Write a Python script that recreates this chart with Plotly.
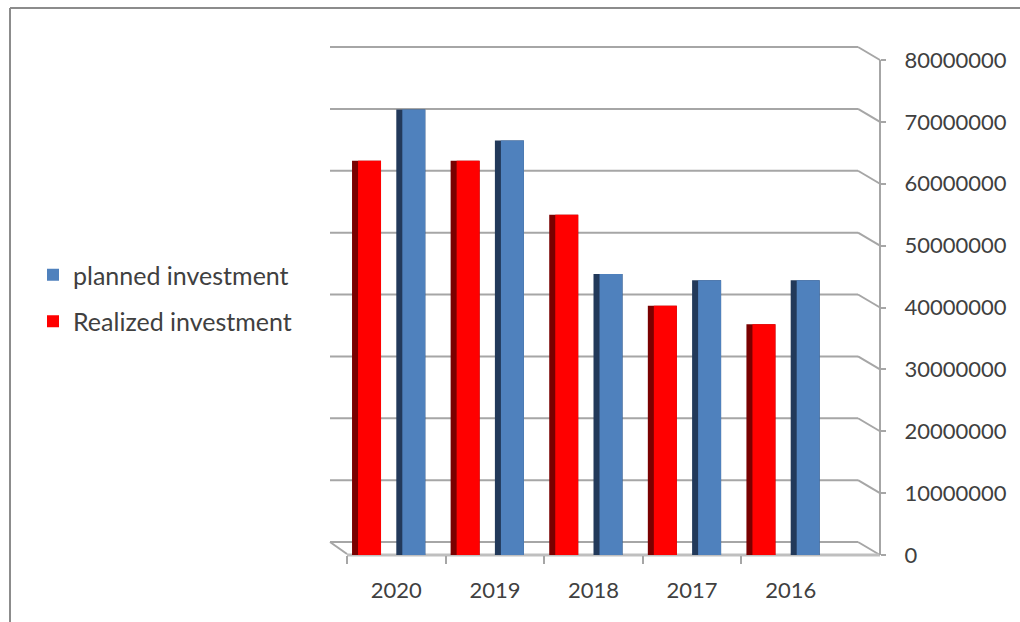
import plotly.graph_objects as go

# ---------------- data ----------------
years = ["2020", "2019", "2018", "2017", "2016"]
planned = [72000000, 67000000, 45400000, 44400000, 44400000]
realized = [63700000, 63700000, 55000000, 40300000, 37300000]
y_ticks = [0, 10000000, 20000000, 30000000, 40000000, 50000000, 60000000, 70000000, 80000000]
y_max = 80000000

# ---------------- geometry (pixels) ----------------
W, H = 1020, 622
def px(x): return x / W
def py(y): return 1 - y / H

FRONT_Y0, FRONT_YTOP = 555, 60     # front (labelled) axis
BACK_Y0, BACK_YTOP = 542, 47       # back wall
BACK_X0, BACK_X1 = 330, 858
AXIS_X = 880
CAT_X0, CAT_X1 = 347, 840
FLOOR_Y = 555

GRID = "#A6A6A6"
TXT = "#404040"
FONT = "Lato, Open Sans, sans-serif"

fig = go.Figure()

# bars: dark side first, then front face
def add_bar(vals, name, face, side, off, showlegend):
    fig.add_trace(go.Bar(x=years, y=vals, name=name, marker=dict(color=side, line=dict(width=0)),
                         offset=off, width=0.294, showlegend=False, hoverinfo="skip",
                         legendgroup=name))
    fig.add_trace(go.Bar(x=years, y=vals, name=name, marker=dict(color=face, line=dict(width=0)),
                         offset=off + 0.061, width=0.233, showlegend=showlegend, hoverinfo="skip",
                         legendgroup=name))

add_bar(planned, "planned investment", "#4F81BD", "#22395A", 0.0, True)
add_bar(realized, "Realized investment", "#FF0000", "#7A0000", -0.449, True)

shapes = []
def line(x0, y0, x1, y1, color=GRID, width=2):
    shapes.append(dict(type="line", xref="paper", yref="paper",
                       x0=px(x0), y0=py(y0), x1=px(x1), y1=py(y1),
                       line=dict(color=color, width=width), layer="below"))

# back-wall gridlines and right-side connectors to the front axis
for v in y_ticks:
    yb = BACK_Y0 + (BACK_YTOP - BACK_Y0) * v / y_max
    yf = FRONT_Y0 + (FRONT_YTOP - FRONT_Y0) * v / y_max
    line(BACK_X0, yb, BACK_X1, yb)
    line(BACK_X1, yb, AXIS_X, yf)

# floor
line(BACK_X0, BACK_Y0, CAT_X0, FLOOR_Y - 1)
line(CAT_X0, FLOOR_Y, AXIS_X, FLOOR_Y, color="#BFBFBF", width=3)

# outer border (top and left)
shapes.append(dict(type="line", xref="paper", yref="paper", x0=px(10), y0=py(8), x1=1, y1=py(8),
                   line=dict(color="#8C8C8C", width=2)))
shapes.append(dict(type="line", xref="paper", yref="paper", x0=px(10), y0=py(8), x1=px(10), y1=0,
                   line=dict(color="#8C8C8C", width=2)))

fig.update_layout(
    width=W, height=H,
    margin=dict(l=0, r=0, t=0, b=0, pad=0, autoexpand=False),
    paper_bgcolor="white", plot_bgcolor="rgba(0,0,0,0)",
    barmode="overlay",
    font=dict(family=FONT, color=TXT, size=22),
    shapes=shapes,
    showlegend=True,
    legend=dict(x=px(33), y=py(252), xanchor="left", yanchor="top",
                font=dict(size=25, color=TXT, family=FONT),
                tracegroupgap=11, bgcolor="rgba(0,0,0,0)"),
    xaxis=dict(domain=[px(CAT_X0), px(CAT_X1)], range=[-0.5, 4.5], type="category",
               anchor="y", showgrid=False, zeroline=False, showline=False,
               ticks="outside", tickson="boundaries", ticklen=8, tickcolor="#A6A6A6", tickwidth=2,
               ticklabelstandoff=20, tickfont=dict(size=22, color=TXT)),
    yaxis=dict(domain=[py(FRONT_Y0), py(FRONT_YTOP)], range=[0, y_max],
               anchor="free", position=px(AXIS_X), side="right",
               tickvals=y_ticks, ticktext=[str(v) for v in y_ticks],
               showgrid=False, zeroline=False, showline=True, linecolor="#A6A6A6", linewidth=2,
               ticks="outside", ticklen=5, tickcolor="#A6A6A6", tickwidth=2,
               ticklabelstandoff=14, tickfont=dict(size=22, color=TXT)),
)

fig.write_html("out.html")
